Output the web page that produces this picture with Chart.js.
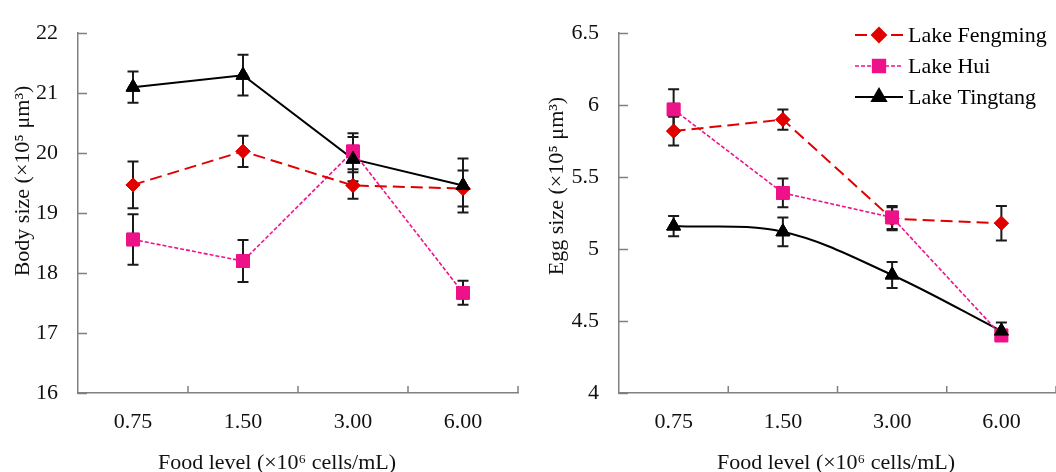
<!DOCTYPE html>
<html>
<head>
<meta charset="utf-8">
<script src="https://cdn.jsdelivr.net/npm/chart.js@4.4.1/dist/chart.umd.min.js"></script>
<style>
html, body { margin: 0; padding: 0; background: #fff; overflow: hidden; width: 1056px; height: 472px; }
.box { position: absolute; top: 0; height: 485px; }
#boxA { left: 0; width: 530px; }
#boxB { left: 530px; width: 536px; }
</style>
</head>
<body>
<div class="box" id="boxA"><canvas id="bodyChart" width="530" height="485"></canvas></div>
<div class="box" id="boxB"><canvas id="eggChart" width="536" height="485"></canvas></div>
<script>
const foodLevels = ['0.75', '1.50', '3.00', '6.00'];
const lakeNames = ['Lake Fengming', 'Lake Hui', 'Lake Tingtang'];

// body size (x10^5 um^3), mean and error
const bodyFengming = [19.47, 20.03, 19.46, 19.41];
const bodyFengmingErr = [0.39, 0.26, 0.22, 0.30];
const bodyHui = [18.56, 18.20, 20.03, 17.67];
const bodyHuiErr = [0.42, 0.35, 0.30, 0.20];
const bodyTingtang = [21.10, 21.30, 19.90, 19.46];
const bodyTingtangErr = [0.26, 0.34, 0.37, 0.45];

// egg size (x10^5 um^3)
const eggFengming = [5.82, 5.90, 5.21, 5.18];
const eggFengmingErr = [0.10, 0.07, 0.08, 0.12];
const eggHui = [5.97, 5.39, 5.22, 4.40];
const eggHuiErr = [0.14, 0.10, 0.08, 0.03];
const eggTingtang = [5.16, 5.12, 4.82, 4.43];
const eggTingtangErr = [0.07, 0.10, 0.09, 0.06];

const bodyTicks = [16, 17, 18, 19, 20, 21, 22];
const eggTicks = [4, 4.5, 5, 5.5, 6, 6.5];

const FONT = "'Liberation Serif', 'Times New Roman', serif";
const RED = '#e00000';
const PINK = '#ee1289';
const BLACK = '#000000';

// error bars, markers redrawn on top
const errorBarsPlugin = {
    id: 'errorBars',
    afterDatasetsDraw: chart => {
        const {ctx} = chart;
        const yScale = chart.scales.y;
        ctx.save();
        ctx.strokeStyle = '#1a1a1a';
        ctx.lineWidth = 2;
        chart.data.datasets.forEach((ds, i) => {
            const meta = chart.getDatasetMeta(i);
            meta.data.forEach((pt, j) => {
                const v = ds.data[j], e = ds.errors[j];
                const yt = yScale.getPixelForValue(v + e);
                const yb = yScale.getPixelForValue(v - e);
                ctx.beginPath();
                ctx.moveTo(pt.x, yt); ctx.lineTo(pt.x, yb);
                ctx.moveTo(pt.x - 5.5, yt); ctx.lineTo(pt.x + 5.5, yt);
                ctx.moveTo(pt.x - 5.5, yb); ctx.lineTo(pt.x + 5.5, yb);
                ctx.stroke();
            });
        });
        ctx.restore();
        chart.data.datasets.forEach((ds, i) => {
            chart.getDatasetMeta(i).data.forEach(pt => pt.draw(ctx, chart.chartArea));
        });
    }
};

// inward tick marks
const innerTicksPlugin = {
    id: 'innerTicks',
    afterDraw: chart => {
        const {ctx, chartArea} = chart;
        const xs = chart.scales.x, ys = chart.scales.y;
        ctx.save();
        ctx.strokeStyle = '#808080';
        ctx.lineWidth = 1.5;
        ctx.beginPath();
        ys.ticks.forEach(t => {
            const y = Math.round(ys.getPixelForValue(t.value)) + 0.5;
            ctx.moveTo(chartArea.left, y); ctx.lineTo(chartArea.left + 9, y);
        });
        for (let i = 0; i < foodLevels.length; i++) {
            const x = i < foodLevels.length - 1
                ? (xs.getPixelForValue(i) + xs.getPixelForValue(i + 1)) / 2
                : chartArea.right;
            ctx.moveTo(x, chartArea.bottom); ctx.lineTo(x, chartArea.bottom - 7);
        }
        ctx.stroke();
        ctx.restore();
    }
};

// axis titles placed like the original figure
const axisTitlesPlugin = {
    id: 'axisTitles',
    afterDraw: chart => {
        const o = chart.options.plugins.axisTitles;
        const {ctx} = chart;
        ctx.save();
        ctx.fillStyle = '#111';
        ctx.font = '22px ' + FONT;
        ctx.textAlign = 'center';
        ctx.textBaseline = 'middle';
        ctx.fillText(o.xText, o.xX, o.xY);
        ctx.translate(o.yX, o.yY);
        ctx.rotate(-Math.PI / 2);
        ctx.fillText(o.yText, 0, 0);
        ctx.restore();
    }
};

// legend with line + marker samples
const lineLegendPlugin = {
    id: 'lineLegend',
    afterDraw: chart => {
        const opts = chart.options.plugins.lineLegend;
        if (!opts || !opts.show) return;
        const {ctx} = chart;
        ctx.save();
        chart.data.datasets.forEach((ds, i) => {
            const y = opts.y + i * 31;
            ctx.strokeStyle = ds.borderColor;
            ctx.lineWidth = ds.borderWidth;
            ctx.setLineDash(ds.borderDash || []);
            ctx.beginPath();
            ctx.moveTo(opts.x, y); ctx.lineTo(opts.x + 48, y);
            ctx.stroke();
            ctx.setLineDash([]);
            ctx.fillStyle = ds.pointBackgroundColor;
            ctx.strokeStyle = ds.pointBackgroundColor;
            Chart.helpers.drawPoint(ctx, {pointStyle: ds.pointStyle, radius: ds.pointRadius, rotation: 0, borderWidth: 1}, opts.x + 24, y);
            ctx.fillStyle = '#000';
            ctx.font = '22px ' + FONT;
            ctx.textBaseline = 'middle';
            ctx.fillText(ds.label, opts.x + 53, y + 1);
        });
        ctx.restore();
    }
};

function makeSet(label, data, errors, color, dash, style, radius, width, tension) {
    return {
        label: label,
        data: data,
        errors: errors,
        borderColor: color,
        backgroundColor: color,
        borderWidth: width,
        borderDash: dash,
        pointStyle: style,
        pointRadius: radius,
        pointHoverRadius: radius,
        pointBackgroundColor: color,
        pointBorderColor: color,
        pointBorderWidth: 1,
        tension: tension,
        clip: false
    };
}

function makeChart(id, sets, yMin, yMax, yStep, titles, pad, yWidth, legend) {
    new Chart(document.getElementById(id), {
        type: 'line',
        data: {labels: foodLevels, datasets: sets},
        options: {
            responsive: false,
            animation: false,
            events: [],
            layout: {padding: pad},
            scales: {
                x: {
                    offset: true,
                    grid: {display: false, drawTicks: false},
                    border: {display: true, color: '#808080', width: 1.5},
                    ticks: {color: '#111', padding: 16, font: {family: FONT, size: 22}},
                    afterFit: s => { s.height = 92; }
                },
                y: {
                    min: yMin, max: yMax,
                    grid: {display: false, drawTicks: false},
                    border: {display: true, color: '#808080', width: 1.5},
                    ticks: {stepSize: yStep, color: '#111', padding: 20, font: {family: FONT, size: 22},
                        callback: v => String(v)},
                    afterFit: s => { s.width = yWidth; }
                }
            },
            plugins: {
                legend: {display: false},
                tooltip: {enabled: false},
                lineLegend: legend,
                axisTitles: titles
            }
        },
        plugins: [errorBarsPlugin, innerTicksPlugin, axisTitlesPlugin, lineLegendPlugin]
    });
}

makeChart('bodyChart', [
    makeSet(lakeNames[0], bodyFengming, bodyFengmingErr, RED, [12, 6], 'rectRot', 7, 2, 0),
    makeSet(lakeNames[1], bodyHui, bodyHuiErr, PINK, [4, 2], 'rect', 9, 1.6, 0),
    makeSet(lakeNames[2], bodyTingtang, bodyTingtangErr, BLACK, [], 'triangle', 8, 2, 0)
], bodyTicks[0], bodyTicks[bodyTicks.length - 1], 1,
   {xText: 'Food level (×10⁶ cells/mL)', xX: 277, xY: 463, yText: 'Body size (×10⁵ μm³)', yX: 23, yY: 181},
   {left: 0, top: 22, right: 12, bottom: 0}, 78, {show: false});

makeChart('eggChart', [
    makeSet(lakeNames[0], eggFengming, eggFengmingErr, RED, [12, 6], 'rectRot', 7, 2, 0),
    makeSet(lakeNames[1], eggHui, eggHuiErr, PINK, [4, 2], 'rect', 9, 1.6, 0),
    makeSet(lakeNames[2], eggTingtang, eggTingtangErr, BLACK, [], 'triangle', 8, 2, 0.35)
], eggTicks[0], eggTicks[eggTicks.length - 1], 0.5,
   {xText: 'Food level (×10⁶ cells/mL)', xX: 306, xY: 463, yText: 'Egg size (×10⁵ μm³)', yX: 27, yY: 186},
   {left: 0, top: 28, right: 5, bottom: 0}, 89, {show: true, x: 325, y: 35});
</script>
</body>
</html>
